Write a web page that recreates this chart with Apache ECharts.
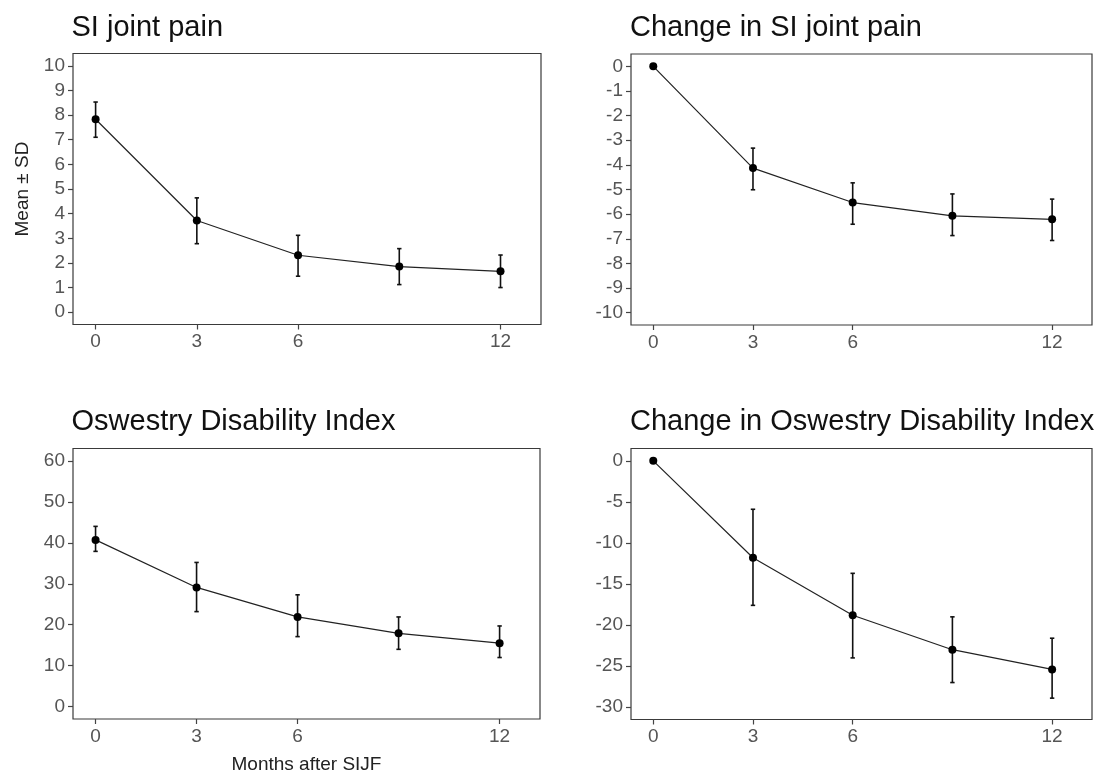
<!DOCTYPE html>
<html>
<head>
<meta charset="utf-8">
<script src="https://cdn.jsdelivr.net/npm/echarts@6/dist/echarts.min.js"></script>
<style>html,body{margin:0;padding:0;background:#fff}#c{width:1104px;height:775px}</style>
</head>
<body>
<div id="c"></div>
<script>
const months = [0, 3, 6, 9, 12];
const xTickLabels = [0, 3, 6, 12];

const painMean = [7.83, 3.72, 2.31, 1.85, 1.66];
const painLower = [7.1, 2.78, 1.46, 1.12, 1.0];
const painUpper = [8.53, 4.64, 3.12, 2.58, 2.32];

const painChangeMean = [0, -4.13, -5.53, -6.07, -6.21];
const painChangeLower = [0, -5.01, -6.41, -6.87, -7.07];
const painChangeUpper = [0, -3.32, -4.73, -5.18, -5.39];

const odiMean = [40.7, 29.1, 21.9, 17.9, 15.5];
const odiLower = [37.9, 23.2, 17.1, 14.0, 12.0];
const odiUpper = [44.0, 35.2, 27.3, 21.9, 19.7];

const odiChangeMean = [0, -11.8, -18.8, -23.0, -25.4];
const odiChangeLower = [0, -17.6, -24.0, -27.0, -28.9];
const odiChangeUpper = [0, -5.9, -13.7, -19.0, -21.6];

const painTicks = [0, 1, 2, 3, 4, 5, 6, 7, 8, 9, 10];
const painChangeTicks = [0, -1, -2, -3, -4, -5, -6, -7, -8, -9, -10];
const odiTicks = [0, 10, 20, 30, 40, 50, 60];
const odiChangeTicks = [0, -5, -10, -15, -20, -25, -30];

const titles = ['SI joint pain', 'Change in SI joint pain', 'Oswestry Disability Index', 'Change in Oswestry Disability Index'];

const panels = [
  {mean: painMean, lo: painLower, hi: painUpper, ticks: painTicks, min: -0.5, max: 10.5},
  {mean: painChangeMean, lo: painChangeLower, hi: painChangeUpper, ticks: painChangeTicks, min: -10.5, max: 0.5},
  {mean: odiMean, lo: odiLower, hi: odiUpper, ticks: odiTicks, min: -3, max: 63},
  {mean: odiChangeMean, lo: odiChangeLower, hi: odiChangeUpper, ticks: odiChangeTicks, min: -31.5, max: 1.5}
];

const gridPos = [
  {left: 73, top: 53.5, width: 468, height: 271},
  {left: 631, top: 54, width: 461, height: 271},
  {left: 73, top: 448.5, width: 467, height: 271},
  {left: 631, top: 448.5, width: 461, height: 271}
];
const titlePos = [
  {left: 71.5, top: 13},
  {left: 630, top: 13},
  {left: 71.5, top: 407.5},
  {left: 630, top: 407.5}
];

const font = 'Liberation Sans, Arial, sans-serif';
const labelColor = '#555';
const tickColor = '#444';

const option = {
  animation: false,
  backgroundColor: '#fff',
  title: titles.map((t, i) => ({
    text: t, left: titlePos[i].left, top: titlePos[i].top, padding: 0,
    textStyle: {fontFamily: font, fontSize: 29, fontWeight: 'normal', color: '#111'}
  })),
  grid: gridPos.map(g => Object.assign({show: true, borderColor: '#3a3a3a', borderWidth: 1.2, backgroundColor: '#fff'}, g)),
  xAxis: gridPos.map((g, i) => ({
    type: 'value', gridIndex: i, min: -0.67, max: 13.2, position: 'bottom',
    splitLine: {show: false},
    axisLine: {show: false, onZero: false},
    axisTick: {show: true, inside: false, length: 5, customValues: xTickLabels, lineStyle: {color: tickColor, width: 1.2}},
    axisLabel: {customValues: xTickLabels, margin: 8, fontFamily: font, fontSize: 19, color: labelColor},
    name: i === 2 ? 'Months after SIJF' : '',
    nameLocation: 'middle', nameGap: 36,
    nameTextStyle: {fontFamily: font, fontSize: 19, color: '#222'}
  })),
  yAxis: panels.map((p, i) => ({
    type: 'value', gridIndex: i, min: p.min, max: p.max, position: 'left',
    splitLine: {show: false},
    axisLine: {show: false, onZero: false},
    axisTick: {show: true, inside: false, length: 5, customValues: p.ticks, lineStyle: {color: tickColor, width: 1.2}},
    axisLabel: {customValues: p.ticks, margin: 8, fontFamily: font, fontSize: 19, color: labelColor},
    name: i === 0 ? 'Mean \u00b1 SD' : '',
    nameLocation: 'middle', nameRotate: 90, nameGap: 41,
    nameTextStyle: {fontFamily: font, fontSize: 19, color: '#222'}
  })),
  series: []
};

panels.forEach((p, i) => {
  option.series.push({
    type: 'custom', xAxisIndex: i, yAxisIndex: i, z: 2,
    data: months.map((m, k) => [m, p.lo[k], p.hi[k]]),
    renderItem: function (params, api) {
      const x = api.value(0), lo = api.value(1), hi = api.value(2);
      if (lo === hi) return null;
      const a = api.coord([x, hi]), b = api.coord([x, lo]);
      const w = 2.2;
      const st = {stroke: '#111', lineWidth: 1.6};
      return {type: 'group', children: [
        {type: 'line', shape: {x1: a[0], y1: a[1], x2: b[0], y2: b[1]}, style: st},
        {type: 'line', shape: {x1: a[0] - w, y1: a[1], x2: a[0] + w, y2: a[1]}, style: st},
        {type: 'line', shape: {x1: b[0] - w, y1: b[1], x2: b[0] + w, y2: b[1]}, style: st}
      ]};
    }
  });
  option.series.push({
    type: 'line', xAxisIndex: i, yAxisIndex: i, z: 3,
    data: months.map((m, k) => [m, p.mean[k]]),
    symbol: 'circle', symbolSize: 8,
    itemStyle: {color: '#000'},
    lineStyle: {color: '#222', width: 1.2}
  });
});

const chart = echarts.init(document.getElementById('c'), null, {renderer: 'canvas'});
chart.setOption(option);
</script>
</body>
</html>
